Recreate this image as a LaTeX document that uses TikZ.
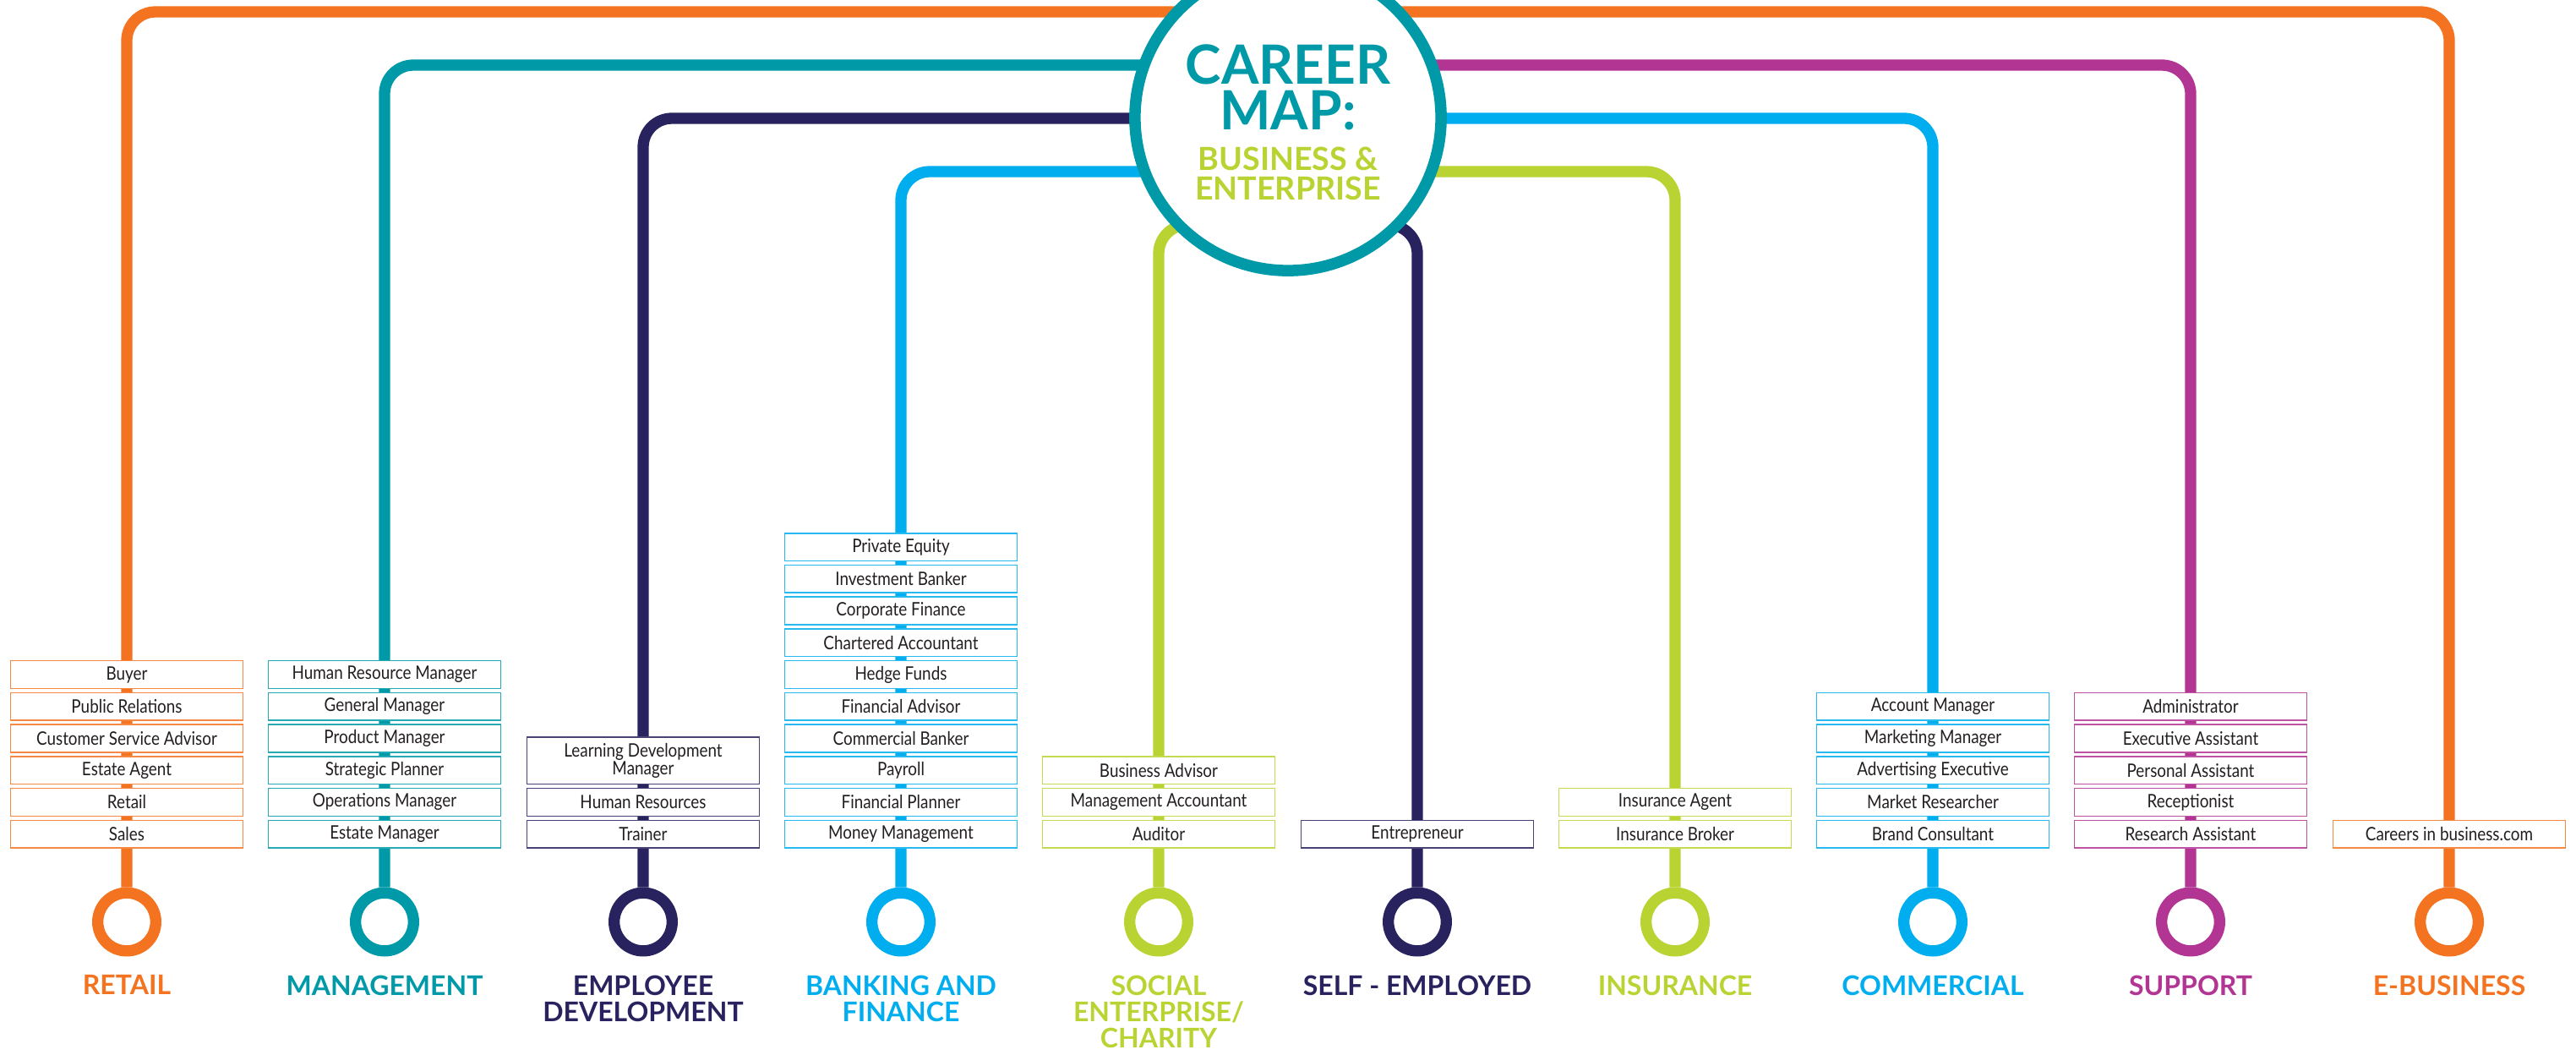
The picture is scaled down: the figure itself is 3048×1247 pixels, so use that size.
\documentclass[tikz,border=0pt]{standalone}
\usepackage{fontspec}
\usepackage{xcolor}
\usetikzlibrary{positioning}
\newfontfamily\jobfont[FakeStretch=0.86]{Lato}
\newfontfamily\capfont{Lato}
\definecolor{cmorange}{HTML}{F37321}
\definecolor{cmteal}{HTML}{0099A8}
\definecolor{cmnavy}{HTML}{28225F}
\definecolor{cmblue}{HTML}{00AEEF}
\definecolor{cmlime}{HTML}{B9D432}
\definecolor{cmpink}{HTML}{B23593}
\definecolor{cmtext}{HTML}{231F20}
\pgfdeclarelayer{background}
\pgfsetlayers{background,main}

\begin{document}
\begin{tikzpicture}[x = 0.01cm, y = -0.01cm,
        metro/.style = {line width = 0.133cm, rounded corners = 0.34cm},
        job/.style = {draw, fill = white, line width = 0.45pt, minimum width = 2.75cm, minimum height = 0.327cm,
            inner sep = 0pt, outer sep = 0pt, align = center, text = cmtext,
            font = \jobfont\fontsize{6.24pt}{5.9pt}\selectfont},
        terminus/.style = {circle, draw, fill = white, line width = 0.133cm, minimum size = 0.686cm, inner sep = 0pt},
        linename/.style = {inner sep = 0pt, align = center, font = \capfont\bfseries\fontsize{9.1pt}{8.8pt}\selectfont},
        hub/.style = {circle, draw = cmteal, fill = white, line width = 0.135cm, minimum size = 3.62cm, inner sep = 0pt}]
        \useasboundingbox (0,0) rectangle (3048,1247);

        % centre of the map
        \node [hub] (hub) at (1524,139) {};
        \node [anchor = north, inner sep = 0pt, align = center, text = cmteal,
            font = \capfont\bfseries\fontsize{18.2pt}{15.4pt}\selectfont] (title) at (1524,52) {CAREER\\MAP:};
        \node [anchor = north, inner sep = 0pt, align = center, text = cmlime,
            font = \capfont\bfseries\fontsize{10.7pt}{10pt}\selectfont] (subtitle) at (1524,173) {BUSINESS \&\\ENTERPRISE};

        % end stops
        \node [terminus, draw = cmorange] (retstop) at (150,1090.5) {};
        \node [terminus, draw = cmteal] (manstop) at (455,1090.5) {};
        \node [terminus, draw = cmnavy] (empstop) at (761,1090.5) {};
        \node [terminus, draw = cmblue] (bankstop) at (1066,1090.5) {};
        \node [terminus, draw = cmlime] (socstop) at (1371,1090.5) {};
        \node [terminus, draw = cmnavy] (selfstop) at (1677,1090.5) {};
        \node [terminus, draw = cmlime] (insstop) at (1982,1090.5) {};
        \node [terminus, draw = cmblue] (comstop) at (2287,1090.5) {};
        \node [terminus, draw = cmpink] (supstop) at (2592,1090.5) {};
        \node [terminus, draw = cmorange] (ebstop) at (2898,1090.5) {};

        \node [linename, text = cmorange] (retname) [below = 0.215cm of retstop] {RETAIL};
        \node [linename, text = cmteal] (manname) [below = 0.215cm of manstop] {MANAGEMENT};
        \node [linename, text = cmnavy] (empname) [below = 0.215cm of empstop] {EMPLOYEE\\DEVELOPMENT};
        \node [linename, text = cmblue] (bankname) [below = 0.215cm of bankstop] {BANKING AND\\FINANCE};
        \node [linename, text = cmlime] (socname) [below = 0.215cm of socstop] {SOCIAL\\ENTERPRISE/\\CHARITY};
        \node [linename, text = cmnavy] (selfname) [below = 0.215cm of selfstop] {SELF - EMPLOYED};
        \node [linename, text = cmlime] (insname) [below = 0.215cm of insstop] {INSURANCE};
        \node [linename, text = cmblue] (comname) [below = 0.215cm of comstop] {COMMERCIAL};
        \node [linename, text = cmpink] (supname) [below = 0.215cm of supstop] {SUPPORT};
        \node [linename, text = cmorange] (ebname) [below = 0.215cm of ebstop] {E-BUSINESS};

        % retail
        \node [job, draw = cmorange!85] (ret6) [above = 0.465cm of retstop] {Sales};
        \node [job, draw = cmorange!85] (ret5) [above = 0.05cm of ret6] {Retail};
        \node [job, draw = cmorange!85] (ret4) [above = 0.05cm of ret5] {Estate Agent};
        \node [job, draw = cmorange!85] (ret3) [above = 0.05cm of ret4] {Customer Service Advisor};
        \node [job, draw = cmorange!85] (ret2) [above = 0.05cm of ret3] {Public Relations};
        \node [job, draw = cmorange!85] (ret1) [above = 0.05cm of ret2] {Buyer};

        % management
        \node [job, draw = cmteal!85] (man6) [above = 0.465cm of manstop] {Estate Manager};
        \node [job, draw = cmteal!85] (man5) [above = 0.05cm of man6] {Operations Manager};
        \node [job, draw = cmteal!85] (man4) [above = 0.05cm of man5] {Strategic Planner};
        \node [job, draw = cmteal!85] (man3) [above = 0.05cm of man4] {Product Manager};
        \node [job, draw = cmteal!85] (man2) [above = 0.05cm of man3] {General Manager};
        \node [job, draw = cmteal!85] (man1) [above = 0.05cm of man2] {Human Resource Manager};

        % employee development
        \node [job, draw = cmnavy!85] (emp3) [above = 0.465cm of empstop] {Trainer};
        \node [job, draw = cmnavy!85] (emp2) [above = 0.05cm of emp3] {Human Resources};
        \node [job, draw = cmnavy!85, minimum height = 0.557cm] (emp1) [above = 0.05cm of emp2] {Learning Development\\Manager};

        % banking and finance
        \node [job, draw = cmblue!85] (bank10) [above = 0.465cm of bankstop] {Money Management};
        \node [job, draw = cmblue!85] (bank9) [above = 0.05cm of bank10] {Financial Planner};
        \node [job, draw = cmblue!85] (bank8) [above = 0.05cm of bank9] {Payroll};
        \node [job, draw = cmblue!85] (bank7) [above = 0.05cm of bank8] {Commercial Banker};
        \node [job, draw = cmblue!85] (bank6) [above = 0.05cm of bank7] {Financial Advisor};
        \node [job, draw = cmblue!85] (bank5) [above = 0.05cm of bank6] {Hedge Funds};
        \node [job, draw = cmblue!85] (bank4) [above = 0.05cm of bank5] {Chartered Accountant};
        \node [job, draw = cmblue!85] (bank3) [above = 0.05cm of bank4] {Corporate Finance};
        \node [job, draw = cmblue!85] (bank2) [above = 0.05cm of bank3] {Investment Banker};
        \node [job, draw = cmblue!85] (bank1) [above = 0.05cm of bank2] {Private Equity};

        % social enterprise
        \node [job, draw = cmlime!85] (soc3) [above = 0.465cm of socstop] {Auditor};
        \node [job, draw = cmlime!85] (soc2) [above = 0.05cm of soc3] {Management Accountant};
        \node [job, draw = cmlime!85] (soc1) [above = 0.05cm of soc2] {Business Advisor};

        % self-employed
        \node [job, draw = cmnavy!85] (self1) [above = 0.465cm of selfstop] {Entrepreneur};

        % insurance
        \node [job, draw = cmlime!85] (ins2) [above = 0.465cm of insstop] {Insurance Broker};
        \node [job, draw = cmlime!85] (ins1) [above = 0.05cm of ins2] {Insurance Agent};

        % commercial
        \node [job, draw = cmblue!85] (com5) [above = 0.465cm of comstop] {Brand Consultant};
        \node [job, draw = cmblue!85] (com4) [above = 0.05cm of com5] {Market Researcher};
        \node [job, draw = cmblue!85] (com3) [above = 0.05cm of com4] {Advertising Executive};
        \node [job, draw = cmblue!85] (com2) [above = 0.05cm of com3] {Marketing Manager};
        \node [job, draw = cmblue!85] (com1) [above = 0.05cm of com2] {Account Manager};

        % support
        \node [job, draw = cmpink!85] (sup5) [above = 0.465cm of supstop] {Research Assistant};
        \node [job, draw = cmpink!85] (sup4) [above = 0.05cm of sup5] {Receptionist};
        \node [job, draw = cmpink!85] (sup3) [above = 0.05cm of sup4] {Personal Assistant};
        \node [job, draw = cmpink!85] (sup2) [above = 0.05cm of sup3] {Executive Assistant};
        \node [job, draw = cmpink!85] (sup1) [above = 0.05cm of sup2] {Administrator};

        % e-business
        \node [job, draw = cmorange!85] (eb1) [above = 0.465cm of ebstop] {Careers in business.com};

        % the lines, behind everything
        \begin{pgfonlayer}{background}
        \draw [metro, cmorange] (hub.center |- 0,14) -| (retstop.north);
        \draw [metro, cmorange] (hub.center |- 0,14) -| (ebstop.north);
        \draw [metro, cmteal] (hub.center |- 0,77) -| (manstop.north);
        \draw [metro, cmpink] (hub.center |- 0,77) -| (supstop.north);
        \draw [metro, cmnavy] (hub.center |- 0,140) -| (empstop.north);
        \draw [metro, cmblue] (hub.center |- 0,140) -| (comstop.north);
        \draw [metro, cmblue] (hub.center |- 0,203) -| (bankstop.north);
        \draw [metro, cmlime] (hub.center |- 0,203) -| (insstop.north);
        \draw [metro, cmlime] (hub.center |- 0,266) -| (socstop.north);
        \draw [metro, cmnavy] (hub.center |- 0,266) -| (selfstop.north);
        \end{pgfonlayer}
    \end{tikzpicture}
\end{document}
